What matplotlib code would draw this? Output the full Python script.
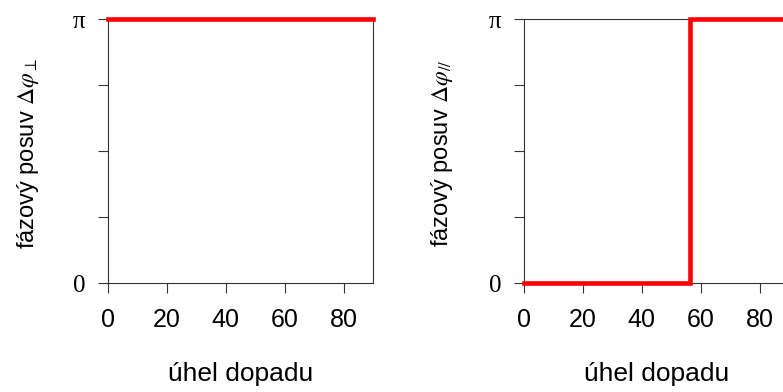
import numpy as np
import matplotlib
matplotlib.use("Agg")
import matplotlib.pyplot as plt

# data
angles = [0.0, 56.3, 56.3, 90.0]            # angle of incidence (deg)
phase_perp = [1.0, 1.0, 1.0, 1.0]           # in units of pi
phase_par = [0.0, 0.0, 1.0, 1.0]            # in units of pi
xticks = [0, 20, 40, 60, 80]
yticks = [0, 0.25, 0.5, 0.75, 1.0]          # in units of pi
ytick_labels = ["0", "", "", "", "π"]

plt.rcParams['font.family'] = ['Liberation Sans', 'DejaVu Sans']
plt.rcParams['mathtext.fontset'] = 'stix'

fig = plt.figure(figsize=(7.83, 3.92), dpi=100)
W, H = 783, 392
panels = [
    (108, phase_perp, r"fázový posuv $\Delta\varphi_{\perp}$", 41),
    (524, phase_par, r"fázový posuv $\Delta\varphi_{//}$", 455),
]
for left_px, ydata, ylabel, lab_x in panels:
    ax = fig.add_axes([left_px / W, 1 - 283 / H, 265 / W, 264 / H])
    ax.plot(angles, np.array(ydata) * np.pi, color='#ff0000', lw=3.3,
            clip_on=False, solid_joinstyle='miter', zorder=5)
    ax.set_xlim(0, 90)
    ax.set_ylim(0, np.pi)
    ax.set_xticks(xticks)
    ax.set_xticklabels([str(t) for t in xticks], fontsize=18)
    ax.set_yticks(np.array(yticks) * np.pi)
    ax.set_yticklabels(ytick_labels, fontsize=18, family=['Liberation Serif', 'DejaVu Serif'])
    ax.tick_params(direction='out', length=7, width=0.8, color='#333333')
    ax.tick_params(axis='x', pad=11)
    ax.tick_params(axis='y', pad=9)
    for s in ax.spines.values():
        s.set_color('#333333')
        s.set_linewidth(0.8)
    ax.set_xlabel("úhel dopadu", fontsize=19)
    ax.xaxis.set_label_coords(0.5, -0.30)
    ax.set_ylabel(ylabel, fontsize=17)
    ax.yaxis.set_label_coords((lab_x - left_px) / 265, 0.49)

fig.savefig("out.png", dpi=100)
